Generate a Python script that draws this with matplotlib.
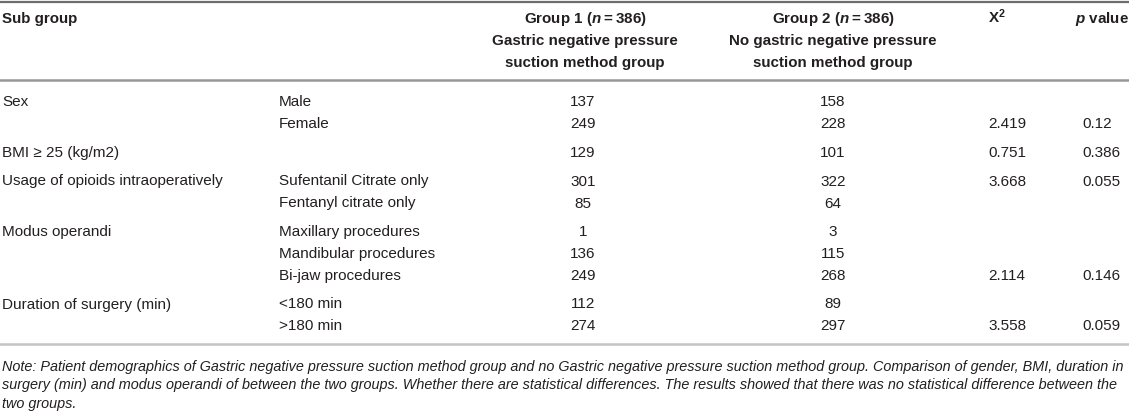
import matplotlib.pyplot as plt

# Table content
head_g1 = ["Group 1 ($\\mathbfit{n}$\u2009=\u2009386)", "Gastric negative pressure", "suction method group"]
head_g2 = ["Group 2 ($\\mathbfit{n}$\u2009=\u2009386)", "No gastric negative pressure", "suction method group"]
head_chi = "X$^{\\mathbf{2}}$"
head_p = "$\\mathbfit{p}$ value"

groups = ["Sex", "", "BMI \u2265 25 (kg/m2)", "Usage of opioids intraoperatively", "",
          "Modus operandi", "", "", "Duration of surgery (min)", ""]
subgroups = ["Male", "Female", "", "Sufentanil Citrate only", "Fentanyl citrate only",
             "Maxillary procedures", "Mandibular procedures", "Bi-jaw procedures",
             "<180 min", ">180 min"]
group1 = ["137", "249", "129", "301", "85", "1", "136", "249", "112", "274"]
group2 = ["158", "228", "101", "322", "64", "3", "115", "268", "89", "297"]
chi2 = ["", "2.419", "0.751", "3.668", "", "", "", "2.114", "", "3.558"]
pvals = ["", "0.12", "0.386", "0.055", "", "", "", "0.146", "", "0.059"]

note = ["Note: Patient demographics of Gastric negative pressure suction method group and no Gastric negative pressure suction method group. Comparison of gender, BMI, duration in",
        "surgery (min) and modus operandi of between the two groups. Whether there are statistical differences. The results showed that there was no statistical difference between the",
        "two groups."]

plt.rcParams['font.family'] = ['Liberation Sans', 'DejaVu Sans']
plt.rcParams['mathtext.fontset'] = 'custom'
plt.rcParams['mathtext.rm'] = 'Liberation Sans'
plt.rcParams['mathtext.it'] = 'Liberation Sans:italic'
plt.rcParams['mathtext.bf'] = 'Liberation Sans:bold'
plt.rcParams['mathtext.bfit'] = 'Liberation Sans:bold:italic'

W, H = 1129, 413
fig = plt.figure(figsize=(W / 100, H / 100), dpi=100)
ax = fig.add_axes([0, 0, 1, 1])
ax.set_xlim(0, W)
ax.set_ylim(H, 0)
ax.axis("off")

txt = "#231f20"
fs = 11.0
hfs = 10.9
nfs = 10.38

# rules
ax.plot([0, W], [1.5, 1.5], color="#6d6d6d", lw=1.6)
ax.plot([0, W], [79.5, 79.5], color="#979797", lw=1.8)
ax.plot([0, W], [344, 344], color="#c4c4c4", lw=1.8)

# header (baselines)
hb = [22.5, 44.5, 66.5]
ax.text(2, hb[0], "Sub group", fontsize=hfs, weight="bold", color=txt, va="baseline")
for k in range(3):
    ax.text(585, hb[k], head_g1[k], fontsize=hfs, weight="bold", color=txt, va="baseline", ha="center")
    ax.text(833, hb[k], head_g2[k], fontsize=hfs, weight="bold", color=txt, va="baseline", ha="center")
ax.text(988, hb[0], head_chi, fontsize=hfs, weight="bold", color=txt, va="baseline")
ax.text(1075, hb[0], head_p, fontsize=hfs, weight="bold", color=txt, va="baseline")

# body rows: tighter spacing inside a group, wider between groups
y = 106.5
for i in range(len(subgroups)):
    if i > 0:
        y += 22 if groups[i] == "" else 28.5
    ax.text(2, y, groups[i], fontsize=fs, color=txt, va="baseline")
    ax.text(279, y, subgroups[i], fontsize=fs, color=txt, va="baseline")
    ax.text(583, y, group1[i], fontsize=fs, color=txt, va="baseline", ha="center")
    ax.text(833, y, group2[i], fontsize=fs, color=txt, va="baseline", ha="center")
    ax.text(988, y, chi2[i], fontsize=fs, color=txt, va="baseline")
    ax.text(1082, y, pvals[i], fontsize=fs, color=txt, va="baseline")

for k, line in enumerate(note):
    ax.text(2, 371 + 18.5 * k, line, fontsize=nfs, style="italic", color=txt, va="baseline")

fig.savefig("out.png", dpi=100)
